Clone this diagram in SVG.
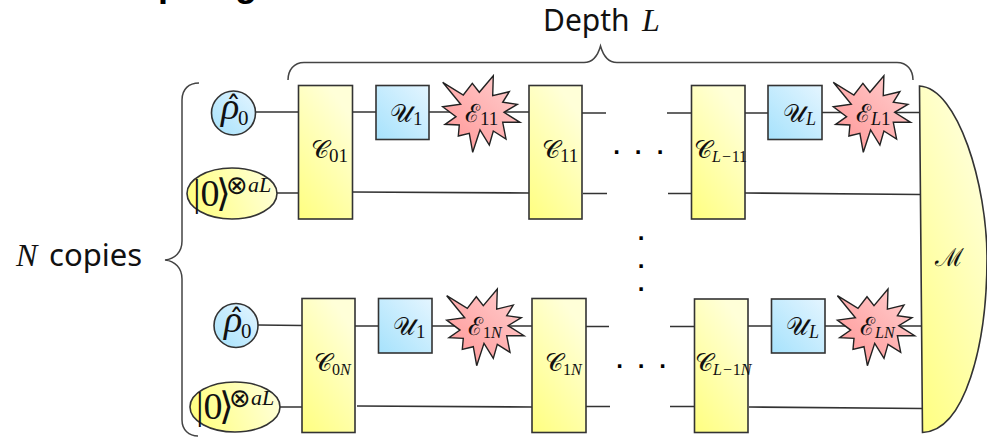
<svg xmlns="http://www.w3.org/2000/svg" width="987" height="437" viewBox="0 0 987 437">
<style>
.w{fill:none;stroke:#333;stroke-width:1.6}
.b{fill:none;stroke:#444;stroke-width:1.5}
.bx{stroke:#333;stroke-width:1.6}
.y{fill:url(#gy)}.u{fill:url(#gb)}
.s{fill:url(#gr);stroke:#222;stroke-width:1.4}
text{font-family:"Liberation Serif","DejaVu Serif",serif;fill:#111}
.t{font-family:"Noto Sans",sans-serif;font-size:30px}
.i{font-style:italic}
.l{font-size:25px;font-style:normal}
.sb{font-size:19px;font-style:normal}
.si{font-size:18px;font-style:italic}
.sb2{font-size:16px;font-style:normal}
.si2{font-size:16px;font-style:italic}
.d{font-family:"DejaVu Sans",sans-serif;font-size:19px;font-weight:bold;text-anchor:middle;fill:#000}
.r{font-size:38px;font-style:italic}
.h{font-size:30px;font-style:normal;font-family:"DejaVu Sans",sans-serif}
.z{font-size:21px;font-style:normal}
.k{font-size:38px}
.ke{font-size:38px;font-family:"DejaVu Sans",sans-serif}
.o{font-size:26px;font-family:"DejaVu Sans",sans-serif}
.a{font-size:22px;font-style:italic}
</style>
<defs>
<linearGradient id="gy" x1="0" y1="1" x2="0.55" y2="0"><stop offset="0" stop-color="#ffff80"/><stop offset="1" stop-color="#ffffd8"/></linearGradient>
<linearGradient id="gb" x1="0" y1="1" x2="1" y2="0"><stop offset="0" stop-color="#a6e2fc"/><stop offset="1" stop-color="#e4f5ff"/></linearGradient>
<linearGradient id="gr" x1="0" y1="1" x2="1" y2="0"><stop offset="0" stop-color="#ff9494"/><stop offset="1" stop-color="#ffd0d0"/></linearGradient>
<linearGradient id="ge" x1="0" y1="0.6" x2="1" y2="0.4"><stop offset="0" stop-color="#ffff80"/><stop offset="1" stop-color="#ffffd8"/></linearGradient>
<polygon id="star" class="s" points="12.7,17.3 33.3,30 42.3,18.3 49.3,27.3 63.3,10.7 62.7,30.7 79.3,26.7 72.7,37.3 87.3,39.3 74,47.3 90,57.3 72.7,57.3 76,74 63.3,66 59.3,80 50,65 42.7,87.3 39.3,68.3 28.3,71 29.3,60 15,59.3 26,51.7 12.7,41.7 30.7,39.3"/>
</defs>

<g id="cropped-title">
<text x="158" y="-4" style="font-family:'Liberation Sans',sans-serif;font-weight:bold;font-size:36px;fill:#000">p</text>
<text x="235" y="-4" style="font-family:'Liberation Sans',sans-serif;font-weight:bold;font-size:36px;fill:#000">g</text>
</g>

<g id="connectors">
<path class="w" d="M255 112H298M352 112H376M429 112H529M582 113H606M667 113H691M745 113H768M822 112.500H920"/>
<path class="w" d="M277 193H298M352 192L529 193M583 193.500H607M668 193.500H691M745 193L920 194.500"/>
<path class="w" d="M258 325L302 325.500M355 326H378M432 326H532M586 326.500H609M670 326.500H694M748 326H771M825 326H922"/>
<path class="w" d="M280 407H302M357 406L532 407M586 406.500H610M670 406.500H694M749 407L922 408.500"/>
</g>

<g id="brace-depth"><path class="b" d="M288 80C288 70 294 62.500 304 62.500H584C594 62.500 598 55 600.500 46C603 55 607 62.500 617 62.500H897C907 62.500 913 70 913 80"/></g>
<g id="brace-copies"><path class="b" d="M199 83C189 83 182 89 182 100V241C182 252 175 259 165 260C175 261 182 268 182 279V420C182 430 189 436 198 436"/></g>

<g id="label-depth"><text class="t" x="543" y="31">Depth<tspan x="642" class="i" style="font-family:'Liberation Serif',serif;font-size:32px">L</tspan></text></g>
<g id="label-copies"><text class="i" x="16" y="266" font-size="32">N</text><text class="t" x="49" y="266" style="font-size:31px">copies</text></g>

<g id="rho-top"><circle class="bx" cx="233.500" cy="113" r="22" fill="url(#gb)"/><text class="r" x="221" y="119">ρ<tspan class="h" x="226" y="118">ˆ</tspan><tspan class="z" x="238" y="125">0</tspan></text></g>
<g id="anc-top"><ellipse class="bx" cx="232" cy="193.500" rx="45" ry="25.500" fill="url(#ge)"/><text class="k" x="193" y="206">|0<tspan class="ke" x="216">⟩</tspan><tspan class="o" x="226" y="194">⊗</tspan><tspan class="a" x="248" y="192">aL</tspan></text></g>
<g id="c01"><rect class="bx y" x="298.500" y="85.500" width="54" height="133.500"/><text class="l" x="311" y="158">𝒞<tspan class="sb" dy="4">01</tspan></text></g>
<g id="u1-top"><rect class="bx u" x="376" y="85.500" width="53" height="54"/><text class="l" x="390" y="122">𝒰<tspan class="sb" dy="3">1</tspan></text></g>
<g id="e11"><use href="#star" x="430" y="65"/><text class="l" x="465" y="122">ℰ<tspan class="sb" dy="3">11</tspan></text></g>
<g id="c11"><rect class="bx y" x="529" y="85.500" width="53" height="133.500"/><text class="l" x="542" y="158">𝒞<tspan class="sb" dy="4">11</tspan></text></g>
<g id="cl11"><rect class="bx y" x="691.500" y="85.500" width="53.500" height="133.500"/><text class="l" x="694" y="158">𝒞<tspan class="si2" dy="4">L−</tspan><tspan class="sb2">11</tspan></text></g>
<g id="ul-top"><rect class="bx u" x="768" y="85.500" width="54" height="54"/><text class="l" x="783" y="122">𝒰<tspan class="si" dy="3">L</tspan></text></g>
<g id="el1"><use href="#star" x="820.600" y="65"/><text class="l" x="856" y="122">ℰ<tspan class="si" dy="3">L</tspan><tspan class="sb">1</tspan></text></g>

<g id="rho-bottom"><circle class="bx" cx="236" cy="325.500" r="22" fill="url(#gb)"/><text class="r" x="224" y="331.500">ρ<tspan class="h" x="229" y="330.500">ˆ</tspan><tspan class="z" x="241" y="337.500">0</tspan></text></g>
<g id="anc-bottom"><ellipse class="bx" cx="235" cy="407" rx="45" ry="25" fill="url(#ge)"/><text class="k" x="196" y="419">|0<tspan class="ke" x="219">⟩</tspan><tspan class="o" x="229" y="407">⊗</tspan><tspan class="a" x="251" y="405">aL</tspan></text></g>
<g id="c0n"><rect class="bx y" x="302" y="298.500" width="53" height="134"/><text class="l" x="314" y="371">𝒞<tspan class="sb2" dy="4">0</tspan><tspan class="si2">N</tspan></text></g>
<g id="u1-bottom"><rect class="bx u" x="378.500" y="298.500" width="53.500" height="54.500"/><text class="l" x="393" y="335">𝒰<tspan class="sb" dy="3">1</tspan></text></g>
<g id="e1n"><use href="#star" x="434" y="278.400"/><text class="l" x="468" y="335">ℰ<tspan class="sb2" dy="3">1</tspan><tspan class="si2">N</tspan></text></g>
<g id="c1n"><rect class="bx y" x="532" y="298.500" width="54" height="134"/><text class="l" x="545" y="371">𝒞<tspan class="sb2" dy="4">1</tspan><tspan class="si2">N</tspan></text></g>
<g id="cl1n"><rect class="bx y" x="694.500" y="299" width="53.500" height="133.500"/><text class="l" x="695" y="371">𝒞<tspan class="si2" dy="4">L−</tspan><tspan class="sb2">1</tspan><tspan class="si2">N</tspan></text></g>
<g id="ul-bottom"><rect class="bx u" x="771.500" y="299" width="53.500" height="54"/><text class="l" x="786" y="335">𝒰<tspan class="si" dy="3">L</tspan></text></g>
<g id="eln"><use href="#star" x="824.700" y="278.400"/><text class="l" x="860" y="335">ℰ<tspan class="si2" dy="3">LN</tspan></text></g>

<g id="measure"><path class="bx y" d="M919.500 86C958 88 987 185 987 258C987 345 965 431 922.500 432.500Z"/><text class="l" x="935" y="266" style="font-size:25px">ℳ</text></g>

<g id="dots">
<text class="d" x="616.500" y="154">.</text><text class="d" x="638" y="154">.</text><text class="d" x="660" y="154">.</text>
<text class="d" x="619.500" y="367.500">.</text><text class="d" x="641" y="367.500">.</text><text class="d" x="662.500" y="367.500">.</text>
<text class="d" x="641" y="240">.</text><text class="d" x="641" y="267.500">.</text><text class="d" x="641" y="291">.</text>
</g>
</svg>
